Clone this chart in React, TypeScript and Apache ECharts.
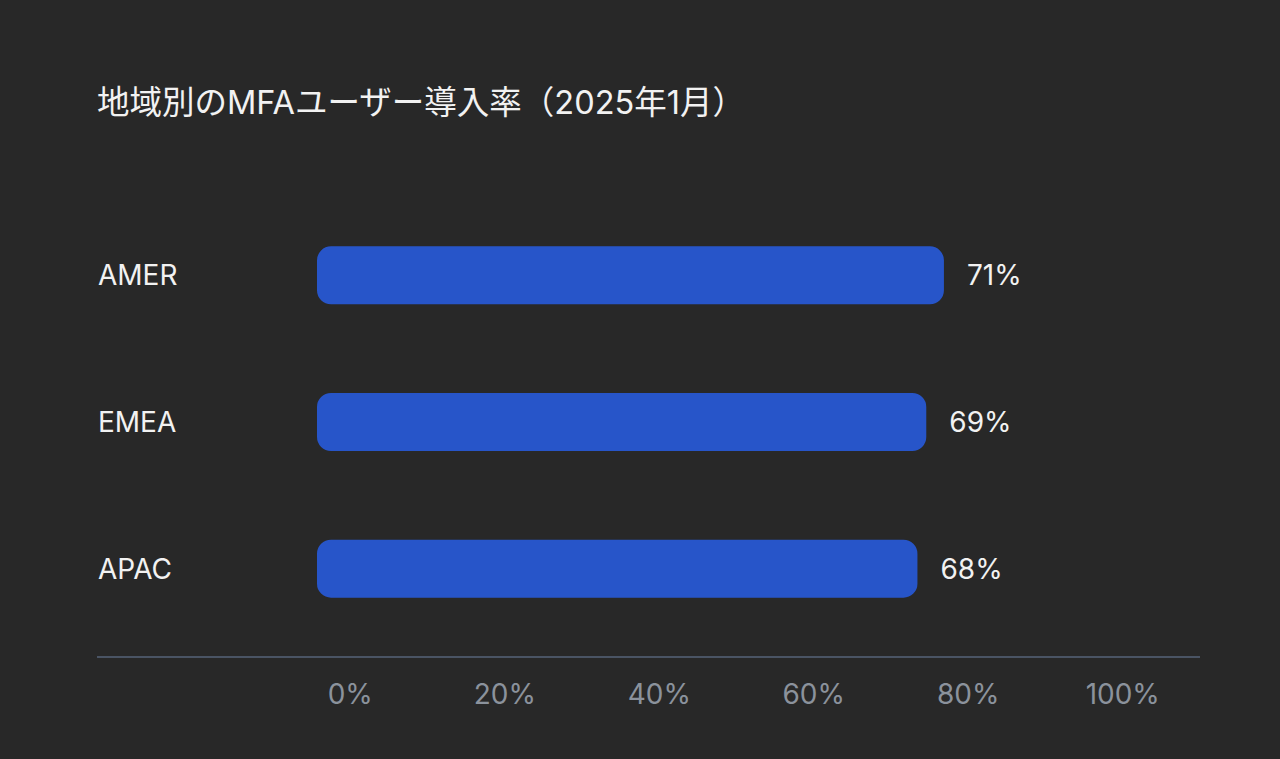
import React, { useEffect, useRef } from "react";
import * as echarts from "echarts";

const TITLE = "地域別のMFAユーザー導入率（2025年1月）";
const regions = ["AMER", "EMEA", "APAC"];
const adoption = [71, 69, 68];
const tickLabels = ["0%", "20%", "40%", "60%", "80%", "100%"];

const FONT = "Inter, 'Noto Sans CJK JP', sans-serif";

export default function App() {
  const ref = useRef<HTMLDivElement>(null);
  useEffect(() => {
    if (!ref.current) return;
    const chart = echarts.init(ref.current, null, { renderer: "svg" });
    chart.setOption({
      animation: false,
      backgroundColor: "#282828",
      textStyle: { fontFamily: FONT },
      title: {
        text: TITLE,
        left: 92,
        top: 81,
        textStyle: { color: "#f2f2f2", fontSize: 32.5, fontWeight: "normal", fontFamily: FONT },
      },
      grid: [
        { left: 317, right: 80, top: 202, height: 440, containLabel: false },
        { left: 273, right: 80, top: 640, height: 17, containLabel: false },
      ],
      xAxis: [
        {
          type: "value",
          gridIndex: 0,
          min: 0,
          max: 100,
          axisLine: { show: false },
          axisTick: { show: false },
          axisLabel: { show: false },
          splitLine: { show: false },
        },
        {
          type: "category",
          gridIndex: 1,
          data: tickLabels,
          position: "bottom",
          axisLine: { show: false },
          axisTick: { show: false },
          splitLine: { show: false },
          axisLabel: { color: "#8b929c", fontSize: 28, margin: 23, fontFamily: FONT },
        },
      ],
      yAxis: [
        {
          type: "category",
          gridIndex: 0,
          data: regions,
          inverse: true,
          axisLine: { show: false },
          axisTick: { show: false },
          splitLine: { show: false },
          axisLabel: {
            color: "#f2f2f2",
            fontSize: 28,
            align: "left",
            margin: 219,
            fontFamily: FONT,
          },
        },
        {
          type: "value",
          gridIndex: 1,
          show: false,
        },
      ],
      graphic: [
        {
          type: "line",
          shape: { x1: 97, y1: 657, x2: 1200, y2: 657 },
          style: { stroke: "#4a5464", lineWidth: 2 },
          z: 10,
        },
      ],
      series: [
        {
          type: "bar",
          xAxisIndex: 0,
          yAxisIndex: 0,
          data: adoption,
          barWidth: 58,
          itemStyle: { color: "#2755c9", borderRadius: 14 },
          label: {
            show: true,
            position: "right",
            distance: 23,
            color: "#f2f2f2",
            fontSize: 28,
            fontFamily: FONT,
            formatter: "{c}%",
          },
        },
      ],
    });
    return () => chart.dispose();
  }, []);
  return <div ref={ref} style={{ width: 1280, height: 759, position: "fixed", left: 0, top: 0 }} />;
}
